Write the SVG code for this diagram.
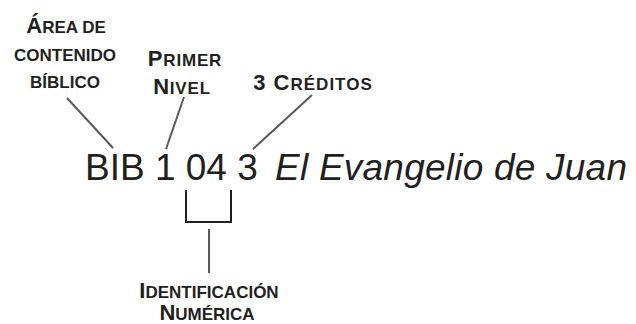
<svg xmlns="http://www.w3.org/2000/svg" width="636" height="324" viewBox="0 0 636 324">
<style>
.lbl{font-family:"Liberation Sans",Arial,Helvetica,sans-serif;font-weight:bold;fill:#231f20;text-anchor:middle}
.big{font-size:22px}
.sm{font-size:17px}
.main{font-family:"Liberation Sans",Arial,Helvetica,sans-serif;fill:#231f20;font-size:37px}
.conn{stroke:#58595b;stroke-width:2;fill:none}
.brk{stroke:#231f20;stroke-width:2;fill:none}
</style>
<rect width="636" height="324" fill="#ffffff"/>
<g id="code">
<text class="main" x="85" y="180">BIB 1 04 3</text>
<text class="main" x="275" y="180" font-style="italic" textLength="352" lengthAdjust="spacing">El Evangelio de Juan</text>
</g>
<g id="area">
<text class="lbl" x="66" y="33"><tspan class="big">Á</tspan><tspan class="sm">REA  DE</tspan></text>
<text class="lbl sm" x="65" y="61">CONTENIDO</text>
<text class="lbl sm" x="65" y="88">BÍBLICO</text>
</g>
<g id="nivel">
<text class="lbl" x="185" y="66" letter-spacing="0.8"><tspan class="big">P</tspan><tspan class="sm">RIMER</tspan></text>
<text class="lbl" x="182" y="94" letter-spacing="0.8"><tspan class="big">N</tspan><tspan class="sm">IVEL</tspan></text>
</g>
<g id="creditos">
<text class="lbl" x="313" y="90" letter-spacing="1"><tspan class="big">3 C</tspan><tspan class="sm">RÉDITOS</tspan></text>
</g>
<g id="identificacion">
<text class="lbl" x="209" y="298"><tspan class="big">I</tspan><tspan class="sm">DENTIFICACIÓN</tspan></text>
<text class="lbl" x="207" y="320"><tspan class="big">N</tspan><tspan class="sm">UMÉRICA</tspan></text>
</g>
<g id="connectors">
<line class="conn" x1="67" y1="98" x2="113" y2="148"/>
<line class="conn" x1="184" y1="97" x2="166" y2="149"/>
<line class="conn" x1="312" y1="95" x2="253" y2="149"/>
<path class="brk" d="M186,190 V222 H231 V190"/>
<line class="conn" x1="209" y1="229" x2="209" y2="273"/>
</g>
</svg>
